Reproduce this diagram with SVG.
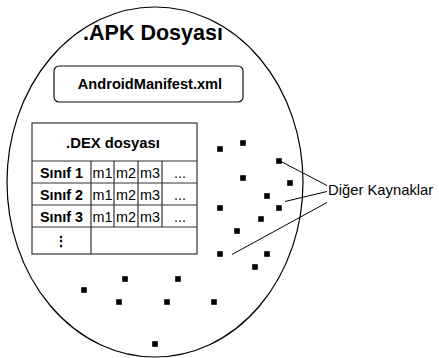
<svg xmlns="http://www.w3.org/2000/svg" width="439" height="358" viewBox="0 0 439 358">
  <style>
    .outline { fill: none; stroke: #000; stroke-width: 1.2; }
    .box { fill: #fff; stroke: #111; stroke-width: 1.2; }
    .grid { fill: none; stroke: #333; stroke-width: 1.2; }
    .lead { fill: none; stroke: #000; stroke-width: 1; }
    .res { fill: #000; }
    .t { font-family: "Liberation Sans", Arial, Helvetica, sans-serif; fill: #000; }
    .b { font-weight: bold; }
    .mid { text-anchor: middle; }
  </style>
  <defs>
    <rect id="sq" x="-2.8" y="-2.8" width="5.6" height="5.6"/>
  </defs>
  <rect width="439" height="358" fill="#fff"/>

  <!-- APK container -->
  <g id="apk">
    <ellipse class="outline" cx="155" cy="182" rx="148" ry="175"/>
    <text class="t b mid" x="153" y="40" font-size="21.5">.APK Dosyası</text>
  </g>

  <!-- manifest -->
  <g id="manifest">
    <rect class="box" x="54" y="66" width="189" height="36" rx="5" ry="5"/>
    <text class="t b mid" x="150" y="89" font-size="14.6">AndroidManifest.xml</text>
  </g>

  <!-- dex file with class table -->
  <g id="dex">
    <rect class="grid" x="32" y="123" width="165" height="131"/>
    <path class="grid" d="M32 161H197M32 183H197M32 205H197M32 227H197M91 161V254M114 161V227M138 161V227M162 161V227"/>
    <text class="t b mid" x="113" y="148" font-size="14.8">.DEX dosyası</text>
    <g class="t" font-size="14.4">
      <text class="b mid" x="61.5" y="177.5">Sınıf 1</text>
      <text class="b mid" x="61.5" y="199.5">Sınıf 2</text>
      <text class="b mid" x="61.5" y="221.5">Sınıf 3</text>
      <text class="b mid" x="61" y="246">⋮</text>
      <text class="mid" x="102.5" y="177.5">m1</text>
      <text class="mid" x="126" y="177.5">m2</text>
      <text class="mid" x="150" y="177.5">m3</text>
      <text class="mid" x="180" y="177.5">...</text>
      <text class="mid" x="102.5" y="199.5">m1</text>
      <text class="mid" x="126" y="199.5">m2</text>
      <text class="mid" x="150" y="199.5">m3</text>
      <text class="mid" x="180" y="199.5">...</text>
      <text class="mid" x="102.5" y="221.5">m1</text>
      <text class="mid" x="126" y="221.5">m2</text>
      <text class="mid" x="150" y="221.5">m3</text>
      <text class="mid" x="180" y="221.5">...</text>
    </g>
  </g>

  <!-- other resources -->
  <g id="resources" class="res">
    <use href="#sq" x="220" y="149"/>
    <use href="#sq" x="243" y="143"/>
    <use href="#sq" x="279" y="161"/>
    <use href="#sq" x="243" y="178"/>
    <use href="#sq" x="290" y="183"/>
    <use href="#sq" x="267" y="196"/>
    <use href="#sq" x="220" y="208"/>
    <use href="#sq" x="279" y="208"/>
    <use href="#sq" x="261" y="219"/>
    <use href="#sq" x="237" y="231"/>
    <use href="#sq" x="220" y="254"/>
    <use href="#sq" x="267" y="254"/>
    <use href="#sq" x="255" y="267"/>
    <use href="#sq" x="125" y="279"/>
    <use href="#sq" x="178" y="279"/>
    <use href="#sq" x="84" y="290"/>
    <use href="#sq" x="119" y="302"/>
    <use href="#sq" x="167" y="302"/>
    <use href="#sq" x="214" y="302"/>
    <use href="#sq" x="155" y="344"/>
  </g>

  <!-- label -->
  <g id="label">
    <text class="t" x="328" y="195" font-size="14.8">Diğer Kaynaklar</text>
  </g>

  <!-- leader lines -->
  <g id="connectors">
    <line class="lead" x1="281" y1="161.5" x2="327" y2="185.5"/>
    <line class="lead" x1="285" y1="201.5" x2="327" y2="191.5"/>
    <line class="lead" x1="232" y1="254.5" x2="327" y2="202.5"/>
  </g>
</svg>
